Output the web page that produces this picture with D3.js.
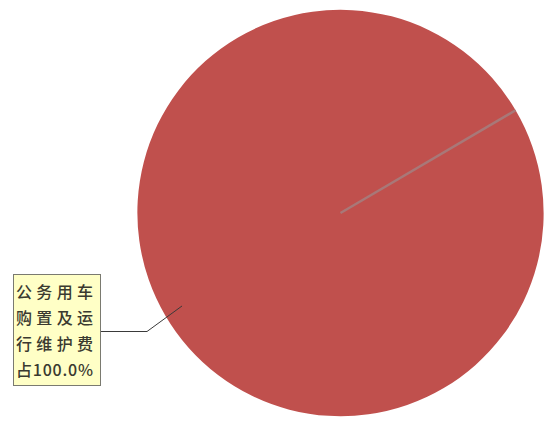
<!DOCTYPE html>
<html>
<head>
<meta charset="utf-8">
<script src="https://cdn.jsdelivr.net/npm/d3@7"></script>
<style>
  html, body { margin: 0; padding: 0; background: #fff; }
  svg { display: block; }
</style>
</head>
<body>
<svg id="pieSvg" width="544" height="421"></svg>
<script>
// chart data
const categories = ["公务用车购置及运行维护费"];
const values = [100];
const percentLabels = ["100.0%"];

const svg = d3.select("#pieSvg");
const width = +svg.attr("width");
const height = +svg.attr("height");

const cx = 340.5;
const cy = 213;
const radius = 203;
const startDeg = 59.6;

const pie = d3
    .pie()
    .sort(null)
    .startAngle((startDeg * Math.PI) / 180)
    .endAngle((startDeg * Math.PI) / 180 + 2 * Math.PI);

const arc = d3.arc().innerRadius(0).outerRadius(radius);
const leaderArc = d3.arc().innerRadius(radius * 0.905).outerRadius(radius * 0.905);

const slices = pie(values);

const g = svg.append("g").attr("transform", `translate(${cx},${cy})`);

g.selectAll("path.slice")
    .data(slices)
    .enter()
    .append("path")
    .attr("class", "slice")
    .attr("d", arc)
    .attr("fill", "#C0504D");

// slice border from centre to the start angle
g.selectAll("line.border")
    .data(slices)
    .enter()
    .append("line")
    .attr("class", "border")
    .attr("x1", 0)
    .attr("y1", 0)
    .attr("x2", (d) => radius * Math.sin(d.startAngle))
    .attr("y2", (d) => -radius * Math.cos(d.startAngle))
    .attr("stroke", "#a87878")
    .attr("stroke-width", 2.5);

// label box
const box = { x: 13, y: 274, w: 87, h: 111 };
const lineStep = 26;

const labelLines = (i) => {
    const name = categories[i];
    const lines = [];
    for (let k = 0; k < name.length; k += 4) lines.push(name.slice(k, k + 4));
    lines.push("占" + percentLabels[i]);
    return lines;
};

slices.forEach((d, i) => {
    const tip = leaderArc.centroid(d);
    const midY = box.y + box.h / 2 + 2;
    const elbowX = box.x + box.w + 47;

    svg.append("polyline")
        .attr("points", [
            [box.x + box.w, midY],
            [elbowX, midY],
            [cx + tip[0], cy + tip[1]]
        ].map((p) => p.join(",")).join(" "))
        .attr("fill", "none")
        .attr("stroke", "#3a3a3a")
        .attr("stroke-width", 1);

    svg.append("rect")
        .attr("x", box.x + 0.5)
        .attr("y", box.y + 0.5)
        .attr("width", box.w)
        .attr("height", box.h)
        .attr("fill", "#FFFFC6")
        .attr("stroke", "#7a7a70")
        .attr("stroke-width", 1);

    svg.selectAll("text.label")
        .data(labelLines(i))
        .enter()
        .append("text")
        .attr("class", "label")
        .attr("x", box.x + 3)
        .attr("y", (t, k) => box.y + 17 + k * lineStep)
        .attr("dominant-baseline", "central")
        .attr("textLength", 77)
        .attr("lengthAdjust", "spacing")
        .attr("font-family", "'Noto Sans CJK SC', sans-serif")
        .attr("font-size", 16)
        .attr("font-weight", 500)
        .attr("fill", "#3a3a30")
        .text((t) => t);
});
</script>
</body>
</html>
